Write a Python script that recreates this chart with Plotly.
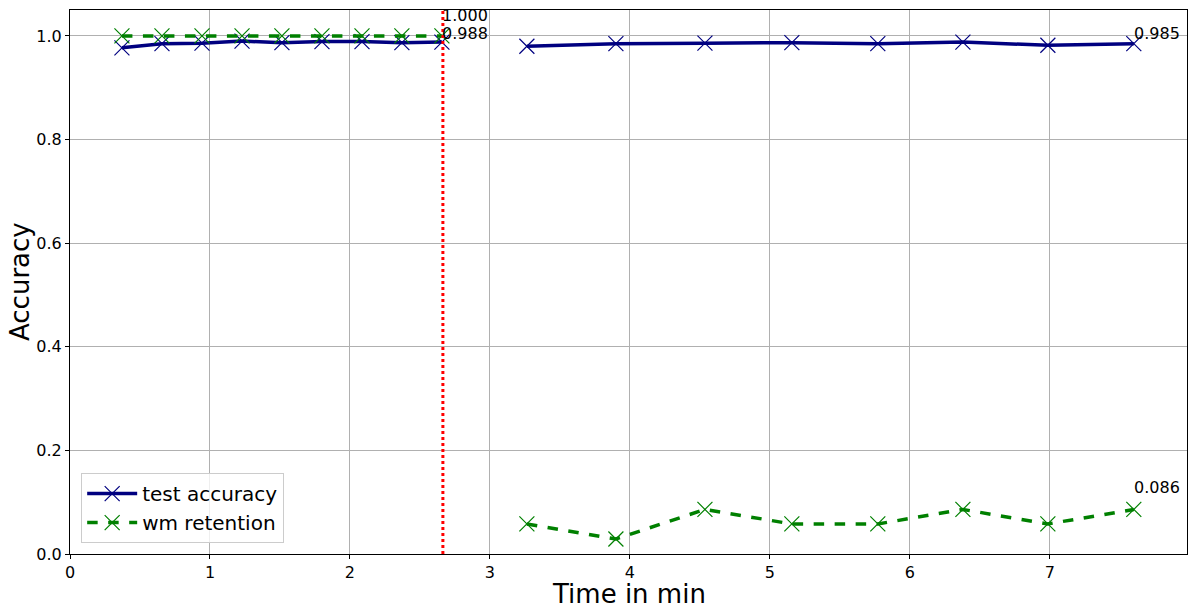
import plotly.graph_objs as go

# time stamps (minutes) for the two training phases
time_before = [0.371, 0.657, 0.943, 1.229, 1.514, 1.800, 2.086, 2.371, 2.657]
time_after = [3.264, 3.900, 4.536, 5.157, 5.771, 6.379, 6.986, 7.600]

test_acc_before = [0.977, 0.985, 0.986, 0.990, 0.987, 0.989, 0.989, 0.987, 0.988]
test_acc_after = [0.980, 0.985, 0.986, 0.987, 0.985, 0.988, 0.982, 0.985]

wm_before = [1.0, 1.0, 1.0, 1.0, 1.0, 1.0, 1.0, 1.0, 1.0]
wm_after = [0.058, 0.029, 0.086, 0.058, 0.058, 0.086, 0.058, 0.086]

attack_time = 2.664
y_ticks = [0.0, 0.2, 0.4, 0.6, 0.8, 1.0]
x_ticks = [0, 1, 2, 3, 4, 5, 6, 7]

FONT = "DejaVu Sans"


def main():
    fig = go.Figure()

    # gap between phases -> None breaks the line
    x_all = time_before + [None] + time_after
    acc_all = test_acc_before + [None] + test_acc_after
    wm_all = wm_before + [None] + wm_after

    fig.add_trace(go.Scatter(
        x=x_all, y=acc_all, name="test accuracy", mode="lines+markers",
        line=dict(color="navy", width=3.5),
        marker=dict(symbol="x-thin", size=15, line=dict(color="navy", width=1.2)),
    ))
    fig.add_trace(go.Scatter(
        x=x_all, y=wm_all, name="wm retention", mode="lines+markers",
        line=dict(color="green", width=3.5, dash="dash"),
        marker=dict(symbol="x-thin", size=15, line=dict(color="green", width=1.2)),
    ))

    # vertical marker where the attack begins
    fig.add_shape(type="line", x0=attack_time, x1=attack_time, y0=0, y1=1,
                  xref="x", yref="paper",
                  line=dict(color="red", width=3, dash="dot"))

    # value labels
    labels = [
        (time_before[-1], wm_before[-1], 9),
        (time_before[-1], test_acc_before[-1], -3),
        (time_after[-1], test_acc_after[-1], -1),
        (time_after[-1], wm_after[-1], 10),
    ]
    for x, y, shift in labels:
        fig.add_annotation(x=x, y=y, text="%.3f" % y, showarrow=False,
                           xanchor="left", yanchor="bottom", xshift=-2, yshift=shift,
                           font=dict(family=FONT, size=16, color="black"))

    # axis titles
    title_font = dict(family=FONT, size=26, color="black")
    fig.add_annotation(text="Time in min", xref="paper", yref="paper", x=0.5, y=0,
                       xanchor="center", yanchor="top", yshift=-23,
                       showarrow=False, font=title_font)
    fig.add_annotation(text="Accuracy", xref="paper", yref="paper", x=0, y=0.5,
                       xanchor="center", yanchor="middle", xshift=-50, textangle=-90,
                       showarrow=False, font=title_font)

    axis_style = dict(
        showline=True, linecolor="black", linewidth=1, mirror=True,
        showgrid=True, gridcolor="#b0b0b0", gridwidth=1,
        ticks="outside", ticklen=4, tickcolor="black",
        tickfont=dict(family=FONT, size=16, color="black"),
        zeroline=False, automargin=False,
    )

    fig.update_xaxes(range=[0, 7.98], tickvals=x_ticks, **axis_style)
    fig.update_yaxes(range=[0, 1.05], tickvals=y_ticks, tickformat=".1f", **axis_style)

    # page body has an 8px margin, so the figure is sized to fit inside it
    fig.update_layout(
        width=1188, height=605,
        margin=dict(l=62, r=9, t=2, b=59),
        plot_bgcolor="white", paper_bgcolor="white",
        font=dict(family=FONT, color="black"),
        legend=dict(x=0.01, y=0.02, xanchor="left", yanchor="bottom",
                    itemwidth=50, tracegroupgap=0,
                    bgcolor="rgba(255,255,255,0.8)", bordercolor="#cccccc", borderwidth=1,
                    font=dict(family=FONT, size=20, color="black")),
    )

    fig.write_html("out.html")


if __name__ == "__main__":
    main()
